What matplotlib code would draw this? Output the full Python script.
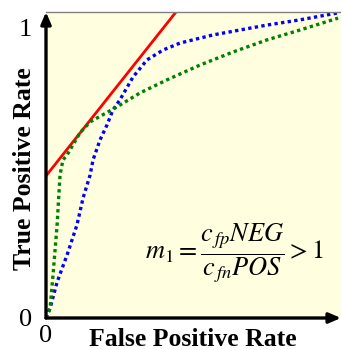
import matplotlib.pyplot as plt

# ROC sketch values (x = false positive rate, y = true positive rate)
green_fpr = [0.0, 0.014, 0.024, 0.038, 0.048, 0.058, 0.072, 0.116, 0.151, 0.243,
             0.322, 0.414, 0.527, 0.640, 0.757, 0.870, 1.0]
green_tpr = [0.0, 0.034, 0.148, 0.321, 0.493, 0.545, 0.562, 0.638, 0.676, 0.728,
             0.776, 0.821, 0.872, 0.917, 0.959, 0.993, 1.034]

blue_fpr = [0.0, 0.014, 0.038, 0.072, 0.106, 0.127, 0.151, 0.161, 0.185, 0.209,
            0.229, 0.253, 0.298, 0.346, 0.401, 0.459, 0.572, 0.757, 0.870, 1.0]
blue_tpr = [0.0, 0.034, 0.124, 0.217, 0.321, 0.414, 0.493, 0.545, 0.614, 0.666,
            0.717, 0.752, 0.831, 0.890, 0.924, 0.948, 0.976, 1.010, 1.028, 1.052]

# iso-performance line with slope m1 > 1
red_fpr = [0.0, 0.46]
red_tpr = [0.49, 1.074]

plt.rcParams["font.family"] = ["Liberation Serif", "DejaVu Serif"]
plt.rcParams["mathtext.fontset"] = "stix"

fig = plt.figure(figsize=(3.41, 3.5), dpi=100)
ax = fig.add_axes([46 / 341, 32 / 350, 295 / 341, 306 / 350])
ax.set_facecolor("#ffffe0")

ax.plot(red_fpr, red_tpr, color="#ff0000", lw=2.0)
ax.plot(blue_fpr, blue_tpr, color="#0000ff", lw=2.4, dashes=(1, 1))
ax.plot(green_fpr, green_tpr, color="#008000", lw=2.4, dashes=(1, 1))

ax.set_xlim(0, 1.01)
ax.set_ylim(0, 1.055)

ax.spines["left"].set_visible(False)
ax.spines["bottom"].set_visible(False)
ax.spines["right"].set_visible(False)
ax.spines["top"].set_color("#808080")
ax.spines["top"].set_linewidth(1.0)

# axis arrows
arrow = dict(arrowstyle="-|>,head_length=0.7,head_width=0.3", color="black",
             lw=2.4, shrinkA=0, shrinkB=0)
ax.annotate("", xy=(0, 1.0), xytext=(0, 0), xycoords="axes fraction",
            arrowprops=arrow, annotation_clip=False)
ax.annotate("", xy=(1.0, 0), xytext=(0, 0), xycoords="axes fraction",
            arrowprops=arrow, annotation_clip=False)

ax.set_xticks([0])
ax.set_xticklabels(["0"])
ax.set_yticks([0, 1])
ax.set_yticklabels(["0", "1"])
ax.tick_params(axis="y", length=0, labelsize=19, pad=10)
ax.tick_params(axis="x", length=0, labelsize=19, pad=5)
for lbl in ax.get_yticklabels()[:1]:
    lbl.set_y(0.012)

fig.text(193 / 341, 1 - 339 / 350, "False Positive Rate", fontsize=18.5,
         fontweight="bold", ha="center", va="center")
fig.text(25 / 341, 1 - 169 / 350, "True Positive Rate", fontsize=18.5,
         fontweight="bold", ha="center", va="center", rotation=90)

ax.text(0.64, 0.21, r"$m_1 = \dfrac{c_{\,fp}NEG}{c_{\,fn}POS} > 1$",
        transform=ax.transAxes, fontsize=19, ha="center", va="center")

fig.savefig("out.png", dpi=100)
